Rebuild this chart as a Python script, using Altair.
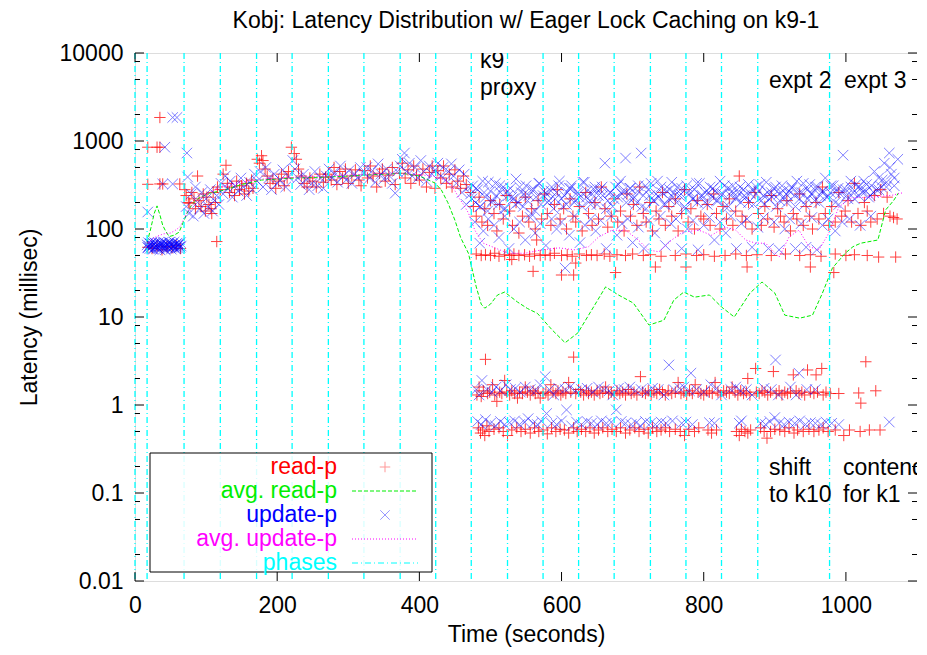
import altair as alt
import pandas as pd

# ---------------- data ----------------
read_early = [(18, 62), (24, 60), (31, 64), (38, 58), (45, 63), (52, 61), (58, 65), (64, 60),
              (18, 322), (35, 325), (39, 325), (63, 325), (18, 850), (31, 850), (35, 850), (35, 1850)]

read_mid = [(70, 280), (72, 240), (75, 200), (77, 196), (80, 260), (83, 220), (85, 170), (88, 400),
            (90, 210), (93, 180), (96, 250), (99, 160), (101, 230), (104, 190), (107, 170), (108, 150),
            (110, 260), (113, 200), (115, 72), (116, 300),
            (120, 280), (124, 420), (128, 530), (130, 330), (133, 260), (136, 300), (140, 240), (143, 350),
            (147, 280), (150, 310), (154, 250), (157, 330), (160, 270), (164, 360), (166, 290),
            (172, 620), (175, 560), (178, 680), (180, 600), (183, 480), (186, 400), (190, 330), (194, 370),
            (198, 290), (202, 350), (206, 420), (210, 310), (214, 380), (216, 450),
            (220, 850), (224, 720), (227, 620), (230, 480), (234, 400), (238, 330), (242, 300), (246, 380),
            (250, 350), (255, 300), (260, 420), (265, 340), (268, 390),
            (272, 420), (276, 360), (280, 500), (284, 320), (288, 450), (292, 380), (296, 480), (300, 330),
            (305, 400), (310, 470), (315, 360), (318, 310),
            (323, 460), (327, 380), (331, 520), (335, 400), (340, 300), (344, 430), (348, 480), (352, 350),
            (357, 410), (362, 500), (366, 320),
            (372, 430), (376, 560), (380, 380), (384, 470), (388, 330), (392, 520), (396, 410), (400, 360),
            (405, 480), (410, 300), (414, 440), (418, 520),
            (422, 290), (426, 460), (430, 380), (434, 520), (438, 330), (442, 420), (446, 300), (450, 470),
            (454, 350), (458, 290), (462, 400), (466, 320)]

read_upper = [(472, 260), (476, 180), (480, 140), (484, 230), (488, 120), (492, 170), (496, 110), (500, 210),
              (505, 150), (509, 95), (513, 190), (518, 130), (522, 240), (527, 160), (531, 110), (536, 200),
              (540, 90), (545, 140), (549, 230), (554, 120), (558, 170), (563, 100), (565, 75), (567, 210),
              (572, 130), (576, 250), (580, 150), (585, 110), (590, 190), (594, 280), (598, 130), (603, 170),
              (607, 100), (612, 220), (616, 140), (620, 120), (625, 180), (629, 95), (634, 260), (638, 150),
              (643, 110), (647, 200), (652, 130), (656, 300), (661, 170), (665, 105), (670, 140), (674, 220),
              (679, 120), (683, 160), (688, 95), (692, 250), (697, 140), (701, 190), (706, 110), (710, 300),
              (715, 150), (719, 120), (724, 200), (728, 95), (733, 160), (737, 130), (742, 260), (746, 110),
              (751, 180), (755, 140), (760, 220), (764, 95), (769, 150), (773, 280), (778, 120), (782, 170),
              (787, 100), (791, 210), (796, 140), (800, 130), (805, 190), (809, 110), (814, 250), (818, 150),
              (823, 100), (827, 180), (832, 130), (836, 220), (841, 110), (845, 160), (850, 400), (854, 140),
              (859, 120), (863, 200), (868, 100), (872, 260), (877, 150), (881, 110), (886, 180), (890, 130),
              (895, 240), (899, 105), (904, 170), (908, 140), (913, 120), (917, 210), (922, 95), (926, 150),
              (931, 130), (935, 250), (940, 110), (944, 180), (949, 140), (953, 100), (958, 200), (962, 130),
              (967, 300), (971, 150), (976, 110), (980, 180), (985, 120), (990, 260), (994, 140), (999, 160),
              (1003, 210), (1008, 120), (1012, 330), (1017, 150), (1021, 110), (1026, 200), (1030, 160),
              (1035, 120), (1040, 240), (1044, 130), (1049, 280), (1053, 150), (1058, 230), (1062, 140),
              (1067, 135), (1072, 130)]

read_band50 = [(480, 52), (487, 50), (493, 51), (500, 50), (506, 53), (512, 49), (520, 51), (527, 50),
               (533, 52), (540, 50), (548, 51), (555, 49), (562, 52), (570, 50), (577, 51), (584, 50),
               (590, 53), (600, 50), (608, 51), (615, 49), (625, 52), (635, 50), (642, 51), (650, 50),
               (660, 52), (668, 49), (678, 51), (690, 50), (700, 52), (715, 50), (725, 51), (740, 49),
               (760, 50), (775, 52), (790, 50), (800, 51), (815, 49), (830, 50), (845, 52), (860, 50),
               (875, 51), (895, 50), (915, 52), (935, 50), (950, 51), (965, 49), (985, 52), (1000, 50),
               (1012, 51), (1030, 50), (1046, 48), (1070, 48),
               (600, 30), (617, 30), (620, 41), (676, 32), (732, 37), (775, 37), (861, 37), (950, 37),
               (983, 32), (560, 33), (530, 45)]

read_band14 = [(481, 1.3), (484, 1.6), (487, 1.25), (490, 1.45), (493, 3.3), (496, 1.35), (499, 1.4),
               (503, 1.7), (506, 1.3), (509, 1.1), (513, 1.4), (516, 1.35), (520, 1.9), (523, 1.4),
               (527, 1.3), (530, 1.45), (534, 1.35), (538, 1.2), (541, 1.4), (545, 1.35), (549, 1.6),
               (552, 1.4), (556, 1.3), (560, 1.45), (563, 1.35), (567, 1.4), (570, 1.2), (574, 1.35),
               (578, 1.4), (581, 1.3), (585, 1.7), (588, 1.4), (592, 1.35), (595, 1.45), (599, 1.3),
               (602, 1.4), (606, 1.35), (610, 1.8), (613, 1.4), (617, 3.5), (620, 1.35), (624, 1.5),
               (627, 1.4), (631, 1.3), (635, 1.45), (638, 1.35), (642, 1.4), (646, 1.3), (650, 1.45),
               (654, 1.35), (658, 1.4), (662, 1.6), (666, 1.35), (670, 1.4), (674, 1.3), (678, 1.45),
               (682, 1.35), (686, 1.4), (690, 1.3), (694, 1.5), (698, 1.35), (702, 1.4), (706, 1.3),
               (711, 2.1), (714, 1.4), (718, 1.35), (722, 1.45), (726, 1.3), (730, 1.4), (734, 1.35),
               (738, 1.5), (742, 1.4), (746, 1.3), (750, 1.45), (755, 1.35), (760, 1.4), (764, 1.8),
               (768, 1.35), (772, 1.4), (776, 1.3), (780, 1.45), (784, 1.35), (788, 1.7), (792, 1.4),
               (796, 1.35), (800, 1.3), (804, 1.45), (808, 1.4), (812, 1.35), (816, 1.8), (820, 1.4),
               (824, 1.3), (828, 1.45), (832, 1.4), (836, 1.35), (840, 1.6), (844, 1.4), (848, 1.3),
               (852, 1.45), (856, 1.35), (860, 1.4), (862, 2.0), (865, 1.3), (873, 2.6), (874, 1.4),
               (878, 1.35), (882, 1.45), (886, 1.4), (890, 1.3), (894, 1.4), (898, 2.4), (902, 1.35),
               (906, 1.45), (910, 1.3), (914, 1.4), (918, 1.35), (922, 1.4), (926, 2.2), (930, 1.45),
               (934, 1.35), (938, 1.4), (942, 1.3), (946, 2.5), (950, 1.4), (955, 1.35), (958, 2.2),
               (960, 1.4), (966, 2.6), (968, 1.3), (972, 1.4), (978, 1.35), (990, 1.35), (1018, 1.37),
               (1021, 1.05), (1028, 3.1), (1042, 1.45)]

read_band05 = [(483, 0.55), (486, 0.48), (489, 0.52), (492, 0.45), (495, 0.58), (498, 0.5), (505, 0.53),
               (512, 0.55), (518, 0.5), (524, 0.45), (530, 0.52), (537, 0.55), (543, 0.5), (549, 0.53),
               (556, 0.48), (562, 0.55), (568, 0.5), (574, 0.52), (580, 0.47), (586, 0.55), (592, 0.5),
               (598, 0.53), (604, 0.52), (610, 0.48), (617, 0.55), (622, 0.5), (628, 0.53), (634, 0.5),
               (640, 0.55), (646, 0.48), (652, 0.52), (658, 0.55), (665, 0.5), (671, 0.53), (677, 0.5),
               (683, 0.55), (690, 0.48), (696, 0.52), (703, 0.55), (709, 0.5), (716, 0.53), (722, 0.48),
               (728, 0.55), (734, 0.5), (740, 0.52), (746, 0.55), (752, 0.5), (760, 0.53), (767, 0.5),
               (773, 0.45), (779, 0.53), (787, 0.5), (793, 0.55), (806, 0.52), (811, 0.48), (818, 0.52),
               (846, 0.5), (850, 0.45), (853, 0.53), (858, 0.5), (862, 0.48), (866, 0.52), (880, 0.55),
               (885, 0.5), (889, 0.42), (894, 0.5), (900, 0.53), (907, 0.52), (914, 0.5), (920, 0.55),
               (927, 0.48), (932, 0.52), (940, 0.5), (948, 0.53), (955, 0.5), (962, 0.52), (968, 0.55),
               (975, 0.5), (985, 0.52), (997, 0.45), (1005, 0.52), (1020, 0.5), (1033, 0.52), (1048, 0.52)]

upd_early = [(17, 66), (18, 62), (19, 70), (20, 64), (21, 60), (22, 68), (23, 63), (24, 71), (25, 65),
             (26, 59), (27, 67), (28, 62), (29, 69), (30, 64), (31, 61), (32, 66), (33, 70), (34, 63),
             (35, 58), (36, 65), (37, 68), (38, 62), (39, 66), (40, 71), (41, 60), (42, 64), (43, 69),
             (44, 63), (45, 67), (46, 61), (47, 65), (48, 70), (49, 62), (50, 66), (51, 59), (52, 68),
             (53, 64), (54, 63), (55, 71), (56, 60), (57, 66), (58, 62), (59, 69), (60, 65), (61, 61),
             (62, 67), (63, 63), (64, 70), (65, 64),
             (18.5, 61), (21.5, 67), (24.5, 59), (27.5, 70), (30.5, 63), (33.5, 60), (36.5, 69), (39.5, 64),
             (42.5, 58), (45.5, 66), (48.5, 71), (51.5, 62), (54.5, 65), (57.5, 60), (60.5, 68), (63.5, 62),
             (18, 156), (39, 325), (53, 325), (42, 850), (53, 1850), (59, 1850), (73, 730)]

upd_mid = [(72, 180), (74, 390), (76, 150), (79, 250), (82, 140), (85, 300), (88, 200), (91, 170), (94, 260),
           (97, 150), (100, 220), (103, 180), (106, 280), (109, 160), (112, 210), (115, 240), (118, 190),
           (121, 330), (124, 250), (127, 400), (130, 290), (134, 350), (137, 230), (141, 310), (145, 270),
           (149, 380), (153, 300), (157, 240), (161, 340), (165, 280), (168, 420),
           (172, 350), (176, 450), (180, 300), (184, 500), (188, 380), (192, 280), (196, 420), (200, 330),
           (204, 360), (208, 470), (212, 300), (216, 390),
           (222, 600), (225, 480), (229, 380), (233, 320), (237, 420), (241, 360), (245, 280), (249, 330),
           (253, 450), (257, 310), (261, 380), (265, 290), (269, 400),
           (273, 480), (277, 380), (281, 430), (285, 340), (289, 520), (293, 400), (297, 360), (301, 460),
           (305, 330), (309, 420), (313, 380), (317, 500),
           (322, 430), (326, 500), (330, 380), (334, 460), (338, 340), (342, 550), (346, 420), (350, 370),
           (354, 480), (358, 400), (362, 330), (366, 255), (369, 450),
           (373, 520), (376, 620), (379, 730), (382, 450), (386, 560), (390, 400), (394, 500), (398, 380),
           (402, 600), (406, 450), (410, 350), (414, 520), (418, 420),
           (422, 470), (426, 560), (430, 400), (433, 500), (437, 360), (441, 450), (445, 550), (448, 400),
           (452, 330), (456, 470), (460, 260), (463, 420), (466, 190), (469, 300)]

upd_upper_t = [472, 475, 479, 482, 486, 489, 493, 496, 500, 503, 507, 511, 514, 518, 521, 525, 528, 532, 536,
               539, 543, 546, 550, 554, 557, 561, 564, 568, 571, 575, 579, 582, 586, 589, 593, 597, 600, 604,
               607, 611, 614, 618, 622, 625, 629, 632, 636, 640, 643, 647, 650, 654, 658, 661, 665, 668, 672,
               676, 679, 683, 686, 690, 694, 697, 701, 704, 708, 712, 715, 719, 722, 726, 730, 733, 737, 740,
               744, 748, 751, 755, 758, 762, 766, 769, 773, 776, 780, 784, 787, 791, 794, 798, 802, 805, 809,
               812, 816, 820, 823, 827, 830, 834, 838, 841, 845, 848, 852, 856, 859, 863, 866, 870, 874, 877,
               881, 884, 888, 892, 895, 899, 902, 906, 910, 913, 917, 920, 924, 928, 931, 935, 938, 942, 946,
               949, 953, 956, 960, 964, 967, 971, 974, 978, 982, 985, 989, 992, 996, 1000, 1003, 1007, 1010,
               1014, 1018, 1021, 1025, 1028, 1032, 1036, 1039, 1043, 1046, 1050, 1054, 1057, 1061, 1064, 1068,
               1072, 1075]
upd_upper_v = [250, 310, 200, 280, 180, 350, 230, 160, 270, 210, 330, 190, 260, 300, 170, 240, 290, 220, 370,
               200, 260, 180, 310, 240, 150, 280, 230, 330, 190, 270, 250, 210, 300, 170, 260, 350, 220, 240,
               190, 290, 310, 200, 260, 230, 180, 340, 270, 210, 250, 300, 190, 280, 240, 560, 210, 260, 180,
               300, 230, 350, 270, 640, 250, 290, 220, 190, 310, 730, 240, 170, 280, 330, 210, 250, 230, 300,
               190, 270, 220, 340, 260, 200, 240, 290, 180, 310, 250, 220, 280, 200, 330, 240, 260, 190, 300,
               230, 270, 210, 350, 250, 180, 290, 240, 310, 220, 260, 200, 280, 230, 320, 250, 190, 300, 270,
               210, 240, 340, 220, 260, 290, 180, 250, 310, 230, 200, 270, 300, 240, 350, 220, 260, 190, 280,
               320, 250, 210, 300, 240, 270, 380, 230, 260, 310, 200, 290, 250, 690, 280, 220, 300, 260, 320,
               240, 290, 350, 270, 230, 310, 260, 280, 380, 300, 560, 340, 730, 420, 310]

upd_upper2_t = [474, 480, 485, 491, 497, 502, 508, 513, 519, 524,
                530, 535, 541, 547, 552, 558, 563, 569, 574, 580,
                585, 591, 596, 602, 608, 613, 619, 624, 630, 635,
                641, 646, 652, 657, 663, 669, 674, 680, 685, 691,
                696, 702, 707, 713, 718, 724, 729, 735, 741, 746,
                752, 757, 763, 768, 774, 779, 785, 790, 796, 802,
                807, 813, 818, 824, 829, 835, 840, 846, 851, 857,
                863, 868, 874, 879, 885, 890, 896, 901, 907, 912,
                918, 924, 929, 935, 940, 946, 951, 957, 962, 968,
                973, 979, 985, 990, 996, 1001, 1007, 1012, 1018, 1023,
                1029, 1034, 1040, 1046, 1051, 1057, 1062, 1068, 1073]
upd_upper2_v = [220, 290, 180, 260, 340, 200, 240, 310, 170, 270,
                230, 190, 300, 250, 210, 280, 160, 330, 240, 200,
                270, 220, 310, 180, 260, 290, 210, 250, 340, 230,
                190, 280, 240, 300, 170, 260, 220, 320, 250, 200,
                290, 230, 270, 180, 310, 240, 210, 350, 260, 190,
                280, 230, 300, 250, 170, 270, 220, 330, 240, 200,
                260, 290, 210, 250, 310, 180, 270, 230, 300, 240,
                200, 280, 250, 320, 190, 260, 230, 300, 210, 270,
                240, 290, 180, 260, 330, 220, 250, 300, 200, 270,
                230, 310, 260, 190, 280, 240, 350, 220, 300, 260,
                320, 240, 450, 280, 360, 300, 500, 380, 620]

upd_lower = [(478, 120), (485, 69), (490, 95), (497, 130), (505, 110), (512, 80), (520, 140), (526, 60),
             (533, 100), (541, 120), (549, 75), (556, 135), (563, 90), (570, 115), (578, 65), (586, 130),
             (593, 100), (600, 120), (605, 36), (611, 85), (618, 140), (626, 70), (633, 110), (641, 130),
             (648, 95), (655, 125), (663, 60), (670, 140), (678, 85), (685, 115), (693, 130), (700, 70),
             (708, 105), (716, 60), (723, 125), (731, 90), (739, 140), (746, 65), (754, 115), (761, 130),
             (769, 60), (777, 100), (785, 125), (792, 58), (800, 110), (808, 135), (815, 75), (823, 120),
             (831, 90), (838, 140), (846, 60), (853, 115), (861, 130), (868, 62), (876, 105), (884, 135),
             (891, 60), (899, 120), (906, 58), (914, 100), (921, 130), (929, 60), (937, 115), (944, 62),
             (952, 135), (959, 58), (967, 110), (975, 130), (985, 95), (995, 120), (1005, 130), (1020, 110),
             (1035, 140)]

upd_band15 = [(480, 1.5), (484, 1.3), (488, 1.9), (495, 1.5), (502, 1.4), (508, 1.6), (514, 1.45), (522, 1.7),
              (528, 1.5), (535, 1.55), (542, 1.4), (549, 1.6), (556, 1.5), (564, 1.45), (570, 1.7), (577, 2.1),
              (583, 1.5), (589, 1.3), (596, 1.55), (605, 1.5), (612, 1.6), (620, 1.45), (628, 1.5), (636, 1.55),
              (644, 1.4), (652, 1.6), (660, 1.5), (667, 1.45), (672, 1.3), (680, 1.55), (688, 1.5), (696, 1.6),
              (704, 1.45), (712, 1.5), (720, 1.4), (728, 1.55), (736, 1.5), (744, 1.3), (751, 2.85), (758, 1.5),
              (766, 1.55), (772, 1.6), (782, 2.3), (780, 1.45), (790, 1.5), (800, 1.4), (810, 1.7), (818, 1.55),
              (825, 1.3), (838, 1.5), (845, 1.6), (852, 1.45), (860, 1.5), (868, 1.3), (885, 1.55), (895, 1.5),
              (901, 3.25), (905, 1.3), (922, 1.6), (930, 1.3), (934, 2.3), (945, 1.5), (957, 1.5)]

upd_band06 = [(482, 0.65), (487, 0.6), (493, 0.68), (500, 0.62), (507, 0.58), (514, 0.65), (520, 0.6),
              (527, 0.63), (534, 0.66), (541, 0.6), (548, 0.64), (553, 0.7), (560, 0.62), (566, 0.6),
              (572, 0.65), (579, 0.8), (586, 0.62), (593, 0.6), (600, 0.66), (607, 0.88), (614, 0.58),
              (621, 0.64), (628, 0.6), (636, 0.65), (642, 0.62), (650, 0.6), (656, 0.66), (663, 0.62),
              (670, 0.64), (677, 0.88), (684, 0.65), (690, 0.62), (698, 0.6), (705, 0.63), (711, 0.58),
              (718, 0.65), (725, 0.62), (732, 0.6), (740, 0.64), (747, 0.62), (756, 0.66), (769, 0.62),
              (775, 0.64), (784, 0.6), (808, 0.63), (815, 0.62), (850, 0.62), (853, 0.66), (880, 0.62),
              (887, 0.6), (893, 0.65), (900, 0.72), (906, 0.62), (913, 0.6), (920, 0.64), (928, 0.62),
              (935, 0.66), (943, 0.6), (950, 0.63), (957, 0.62), (965, 0.6), (972, 0.64), (980, 0.62),
              (990, 0.6), (1061, 0.64)]

avg_read = [(17, 70), (22, 100), (27, 150), (31, 183), (35, 145), (39, 110), (43, 95), (48, 82), (55, 85),
            (62, 92), (68, 120), (73, 150), (80, 190), (90, 225), (105, 255), (126, 277), (150, 320), (178, 360),
            (200, 370), (225, 380), (250, 385), (272, 390), (300, 400), (320, 410), (350, 420), (375, 430),
            (400, 400), (422, 333), (431, 277), (440, 200), (450, 126), (458, 80), (469, 53), (480, 22),
            (487, 14), (492, 12.6), (500, 14), (510, 17.8), (520, 19.2), (538, 14.8), (552, 12.5), (566, 11),
            (587, 7.1), (605, 5.1), (623, 6.6), (645, 13), (662, 22), (680, 17.8), (701, 14.4), (723, 8.1),
            (744, 9.2), (758, 15.6), (772, 19.2), (787, 16.8), (808, 17.8), (825, 13), (843, 10), (865, 18.7),
            (882, 25), (900, 18.7), (914, 10.5), (935, 9.7), (953, 10.5), (967, 18.7), (981, 36), (999, 53),
            (1010, 63), (1021, 69), (1045, 75), (1056, 165), (1067, 210), (1074, 257)]

avg_update = [(17, 65), (22, 75), (30, 82), (40, 88), (50, 90), (58, 98), (64, 108), (72, 150), (80, 185),
              (90, 220), (105, 260), (120, 300), (150, 340), (180, 370), (210, 380), (240, 390), (270, 400),
              (300, 410), (330, 420), (360, 430), (390, 420), (420, 400), (436, 360), (447, 300), (455, 230),
              (462, 190), (469, 152), (478, 97), (484, 81), (490, 69), (502, 63), (525, 53), (549, 53),
              (572, 58), (596, 61), (619, 58), (638, 63), (652, 81), (671, 97), (690, 97), (708, 75), (722, 58),
              (737, 55), (755, 75), (770, 92), (793, 97), (811, 85), (830, 105), (845, 97), (859, 75), (873, 69),
              (887, 69), (906, 48), (920, 81), (934, 97), (948, 63), (962, 58), (976, 90), (990, 178),
              (1008, 226), (1037, 230), (1065, 242), (1079, 257)]

phases = [0, 17, 69, 120, 171, 221, 272, 322, 373, 423, 473, 524, 574, 624, 674, 725, 775, 825, 876, 977]

x_ticks = [0, 200, 400, 600, 800, 1000]
y_major = [0.01, 0.1, 1, 10, 100, 1000, 10000]
y_minor = [0.02, 0.05, 0.08, 0.2, 0.5, 0.8, 2, 5, 8, 20, 50, 80, 200, 500, 800, 2000, 5000, 8000]

legend_labels = ["read-p", "avg. read-p", "update-p", "avg. update-p", "phases"]
legend_colors = ["#ff0000", "#00ee00", "#0000ff", "#ff00ff", "#00ffff"]

title_text = "Kobj: Latency Distribution w/ Eager Lock Caching on k9-1"

# ---------------- chart ----------------
FONT = "Liberation Sans"
W, H = 782, 528
xs = alt.Scale(domain=[0, 1100], nice=False, zero=False)
ys = alt.Scale(type="log", domain=[0.01, 10000], nice=False)
PLUS = "M-1,0L1,0M0,-1L0,1"
CROSS = "M-1,-1L1,1M-1,1L1,-1"


def df(pairs):
    return pd.DataFrame(pairs, columns=["t", "v"])


read_df = df(read_early + read_mid + read_upper + read_band50 + read_band14 + read_band05)
upd_df = df(upd_early + upd_mid + list(zip(upd_upper_t, upd_upper_v)) + list(zip(upd_upper2_t, upd_upper2_v))
            + upd_lower + upd_band15 + upd_band06)
avg_read_df = df(avg_read)
avg_upd_df = df(avg_update)
phase_df = pd.DataFrame({"t": phases})
xt_df = pd.DataFrame({"t": x_ticks})
ymaj_df = pd.DataFrame({"v": y_major})
ymin_df = pd.DataFrame({"v": y_minor})
one = pd.DataFrame({"a": [0]})

x_axis = alt.Axis(values=x_ticks, format="d", tickSize=0, domain=False, grid=False, labelFontSize=23,
                  labelFont=FONT, labelColor="black", labelPadding=13, labelFlush=False,
                  title="Time (seconds)", titleFontSize=23, titleFont=FONT, titleFontWeight="normal",
                  titleColor="black", titleX=W / 2, titleY=53, titleAlign="center", titleBaseline="middle")
y_axis = alt.Axis(values=y_major, format="~g", tickSize=0, domain=False, grid=False, labelFontSize=23,
                  labelFont=FONT, labelColor="black", labelPadding=12, labelFlush=False,
                  title="Latency (millisec)", titleFontSize=23, titleFont=FONT, titleFontWeight="normal",
                  titleColor="black", titleX=-106, titleY=H / 2, titleAlign="center", titleBaseline="middle")

X = lambda: alt.X("t:Q", scale=xs, axis=x_axis)
Y = lambda: alt.Y("v:Q", scale=ys, axis=y_axis)

read_layer = alt.Chart(read_df).mark_point(shape=PLUS, filled=False, size=130, strokeWidth=1,
                                           color="#ff0000", opacity=0.75).encode(x=X(), y=Y())
avg_read_layer = alt.Chart(avg_read_df).mark_line(color="#00ee00", strokeWidth=1, strokeDash=[4, 2]).encode(
    x=X(), y=Y())
upd_layer = alt.Chart(upd_df).mark_point(shape=CROSS, filled=False, size=110, strokeWidth=1,
                                         color="#0000ff", opacity=0.5).encode(x=X(), y=Y())
avg_upd_layer = alt.Chart(avg_upd_df).mark_line(color="#ff00ff", strokeWidth=1, strokeDash=[1, 2]).encode(
    x=X(), y=Y())
phase_layer = alt.Chart(phase_df).mark_rule(color="#00ffff", strokeWidth=1.3, strokeDash=[6, 3, 1, 3]).encode(
    x=X())

tick_layers = [
    alt.Chart(ymaj_df).mark_rule(color="black").encode(y=Y(), x=alt.value(0), x2=alt.value(9)),
    alt.Chart(ymaj_df).mark_rule(color="black").encode(y=Y(), x=alt.value(W - 9), x2=alt.value(W)),
    alt.Chart(ymin_df).mark_rule(color="black").encode(y=Y(), x=alt.value(0), x2=alt.value(5)),
    alt.Chart(ymin_df).mark_rule(color="black").encode(y=Y(), x=alt.value(W - 5), x2=alt.value(W)),
    alt.Chart(xt_df).mark_rule(color="black").encode(x=X(), y=alt.value(H - 9), y2=alt.value(H)),
    alt.Chart(xt_df).mark_rule(color="black").encode(x=X(), y=alt.value(0), y2=alt.value(9)),
]

# legend (key box)
leg = [alt.Chart(one).mark_rect(fill="white", fillOpacity=0.85, stroke="black", strokeWidth=1).encode(
    x=alt.value(15), x2=alt.value(297), y=alt.value(400), y2=alt.value(519))]
rows = [414, 438, 462, 486, 510]
for lab, col, ry in zip(legend_labels, legend_colors, rows):
    leg.append(alt.Chart(one).mark_text(text=lab, align="right", baseline="middle", fontSize=23, font=FONT,
                                        color=col).encode(x=alt.value(202), y=alt.value(ry)))
leg.append(alt.Chart(one).mark_point(shape=PLUS, filled=False, size=110, strokeWidth=1, color="#ff0000",
                                     opacity=0.4).encode(x=alt.value(250), y=alt.value(rows[0])))
leg.append(alt.Chart(one).mark_rule(color="#00ee00", strokeDash=[4, 2]).encode(
    x=alt.value(217), x2=alt.value(283), y=alt.value(rows[1])))
leg.append(alt.Chart(one).mark_point(shape=CROSS, filled=False, size=90, strokeWidth=1, color="#0000ff",
                                     opacity=0.4).encode(x=alt.value(250), y=alt.value(rows[2])))
leg.append(alt.Chart(one).mark_rule(color="#ff00ff", strokeDash=[1, 2]).encode(
    x=alt.value(217), x2=alt.value(283), y=alt.value(rows[3])))
leg.append(alt.Chart(one).mark_rule(color="#00ffff", strokeDash=[6, 3, 1, 3]).encode(
    x=alt.value(217), x2=alt.value(283), y=alt.value(rows[4])))

# annotations
notes = [("k9", 345, 15), ("proxy", 345, 42), ("expt 2", 634, 35), ("expt 3", 709, 35),
         ("shift", 634, 422), ("to k10", 634, 449), ("contend", 708, 422), ("for k1", 708, 449)]
note_layers = [alt.Chart(one).mark_text(text=s, align="left", baseline="alphabetic", fontSize=23, font=FONT,
                                        color="black", clip=True).encode(x=alt.value(nx), y=alt.value(ny))
               for s, nx, ny in notes]

chart = alt.layer(read_layer, avg_read_layer, upd_layer, avg_upd_layer, phase_layer,
                  *tick_layers, *leg, *note_layers).properties(
    width=W, height=H,
    title=alt.TitleParams(title_text, fontSize=23, font=FONT, fontWeight="normal", color="black",
                          anchor="middle", frame="group", offset=9),
    padding={"left": 127, "top": 45, "right": 0, "bottom": 66},
    autosize=alt.AutoSizeParams(type="none"),
).configure_view(stroke="black", strokeWidth=1).configure(background="white")

chart.save("out.html", embed_options={"renderer": "svg", "actions": False})
